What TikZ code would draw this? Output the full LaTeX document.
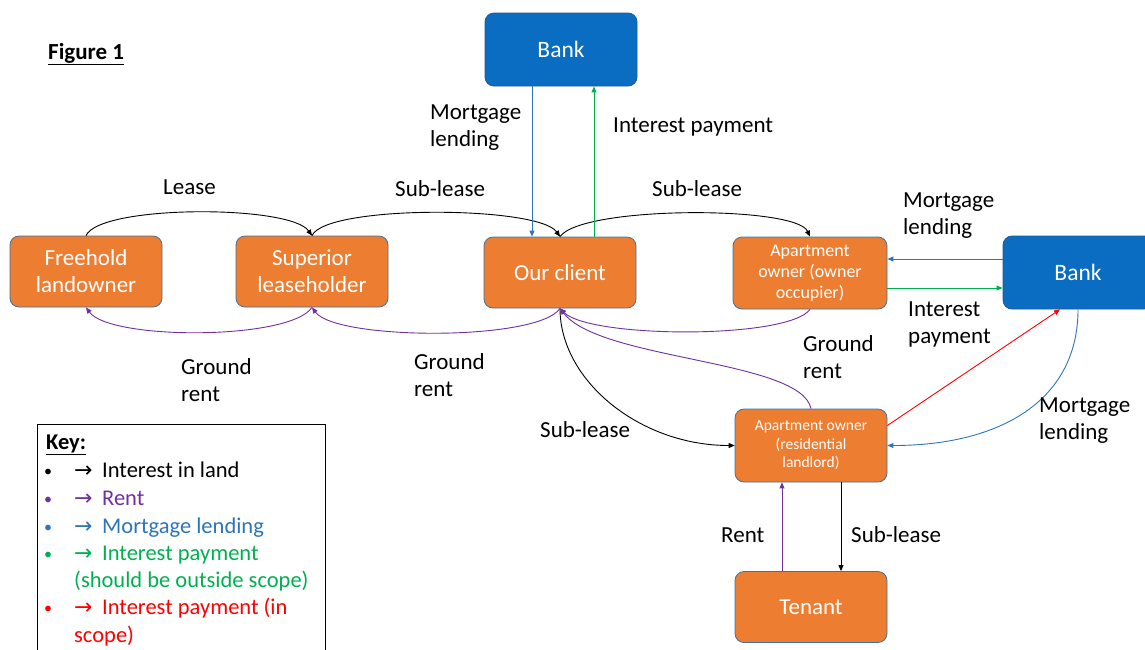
\documentclass[tikz,border=0pt]{standalone}
\usepackage{fontspec}
\setmainfont{Carlito}
\newfontfamily\djv{DejaVu Sans}
\usetikzlibrary{arrows.meta}
\definecolor{orng}{HTML}{ED7D31}
\definecolor{obord}{HTML}{41719C}
\definecolor{bankblue}{HTML}{0A6DC2}
\definecolor{bbord}{HTML}{1F5A96}
\definecolor{rentc}{HTML}{7030A0}
\definecolor{mortc}{HTML}{2E75B6}
\definecolor{intc}{HTML}{00B050}
\definecolor{redc}{HTML}{FF0000}
\newcommand\karrow{\makebox[28pt][l]{\djv\fontsize{22}{22}\selectfont →}}
\begin{document}
\begin{tikzpicture}[x=1pt,y=1pt,
 party/.style={rectangle, rounded corners=9pt, fill=orng, draw=obord, line width=0.8, text=white, align=center, minimum width=152pt, minimum height=71pt, inner sep=0pt, font=\fontsize{23}{27}\selectfont},
 bankbox/.style={party, fill=bankblue, draw=bbord},
 lbl/.style={anchor=west, align=left, inner sep=0pt, font=\fontsize{23}{27}\selectfont},
 keyline/.style={anchor=base west, inner sep=0pt, font=\fontsize{22.5}{27}\selectfont},
 arr/.style={line width=0.9, -{Triangle[length=6pt,width=5pt]}},
 land/.style={arr, black},
 rent/.style={arr, rentc},
 mort/.style={arr, mortc},
 intp/.style={arr, intc},
 intr/.style={arr, redc},
]
\useasboundingbox (0,0) rectangle (1145,-649);
\clip (0,0) rectangle (1145,-649);

% nodes
\node[bankbox, minimum height=73pt, font=\fontsize{23.5}{27}\selectfont] (bank1) at (561,-49.5) {Bank};
\node[party] (free) at (86,-271.5) {Freehold\\landowner};
\node[party] (sup) at (312,-271.5) {Superior\\leaseholder};
\node[party] (cli) at (560,-272.5) {Our client};
\node[party, font=\fontsize{18}{21}\selectfont, minimum width=154pt, minimum height=72pt] (occ) at (810,-273) {Apartment\\owner (owner\\occupier)};
\node[bankbox, minimum width=150pt, minimum height=73pt, font=\fontsize{23.5}{27}\selectfont] (bank2) at (1078,-272.5) {Bank};
\node[party, font=\fontsize{15.5}{18.5}\selectfont, minimum height=73pt] (lord) at (811,-445.5) {Apartment owner\\(residential\\landlord)};
\node[party] (ten) at (811,-607) {Tenant};

% interest in land
\draw[land] (free.north) .. controls +(14,31) and +(-22,31) .. (sup.north);
\draw[land] (sup.north) .. controls +(14,31) and +(-22,31) .. (cli.north);
\draw[land] (cli.north) .. controls +(22,31) and +(-14,31) .. (occ.north);
\draw[land] (cli.south) .. controls +(0,-72) and +(-95,0) .. (lord.west);
\draw[land] ([xshift=30pt]lord.south) -- ([xshift=30pt]ten.north);

% rent
\draw[rent] (sup.south) .. controls +(-22,-33) and +(24,-33) .. (free.south);
\draw[rent] (cli.south) .. controls +(-22,-33) and +(24,-33) .. (sup.south);
\draw[rent] (occ.south) .. controls +(-22,-30) and +(30,-30) .. (cli.south);
\draw[rent] (lord.north) .. controls +(-10,49) and +(40,-52) .. (cli.south);
\draw[rent] ([xshift=-29pt]ten.north) -- ([xshift=-29pt]lord.south);

% mortgage lending
\draw[mort] ([xshift=-29pt]bank1.south) -- ([xshift=-28pt]cli.north);
\draw[mort] ([yshift=13.5pt]bank2.west) -- ([yshift=14pt]occ.east);
\draw[mort] (bank2.south) .. controls +(0,-91) and +(113,0) .. (lord.east);

% interest payment
\draw[intp] ([xshift=34pt]cli.north) -- ([xshift=33pt]bank1.south);
\draw[intp] ([yshift=-15pt]occ.east) -- ([yshift=-15.5pt]bank2.west);
\draw[intr] ([yshift=20pt]lord.east) -- ([xshift=-18pt]bank2.south);

% labels
\node[lbl, font=\fontsize{23}{27}\selectfont\bfseries] (fig) at (48,-54) {\underline{Figure 1}};
\node[lbl] (l1) at (163,-187) {Lease};
\node[lbl] (l2) at (395,-189) {Sub-lease};
\node[lbl] (l3) at (652,-189) {Sub-lease};
\node[lbl] (l4) at (430,-128) {Mortgage\\lending};
\node[lbl] (l5) at (613,-127) {Interest payment};
\node[lbl] (l6) at (903,-216) {Mortgage\\lending};
\node[lbl] (l7) at (908,-324) {Interest\\payment};
\node[lbl] (l8) at (181,-380.5) {Ground\\rent};
\node[lbl] (l9) at (414,-375.5) {Ground\\rent};
\node[lbl] (l10) at (803,-357.5) {Ground\\rent};
\node[lbl] (l11) at (1039,-421) {Mortgage\\lending};
\node[lbl] (l12) at (540,-430) {Sub-lease};
\node[lbl] (l13) at (721,-535) {Rent};
\node[lbl] (l14) at (851,-535) {Sub-lease};

% key
\node[draw, line width=1, anchor=north west, minimum width=288pt, minimum height=240pt, inner sep=0pt] (key) at (37,-424) {};
\node[keyline, font=\fontsize{22.5}{27}\selectfont\bfseries] (k0) at (46,-449) {\underline{Key:}};
\node[keyline, anchor=base, font=\fontsize{16}{27}\selectfont] (b1) at (48,-476) {•};
\node[keyline, anchor=base, text=rentc, font=\fontsize{16}{27}\selectfont] (b2) at (48,-504) {•};
\node[keyline, anchor=base, text=mortc, font=\fontsize{16}{27}\selectfont] (b3) at (48,-532) {•};
\node[keyline, anchor=base, text=intc, font=\fontsize{16}{27}\selectfont] (b4) at (48,-559) {•};
\node[keyline, anchor=base, text=redc, font=\fontsize{16}{27}\selectfont] (b5) at (48,-613) {•};
\node[keyline] (k1) at (74,-477) {\karrow Interest in land};
\node[keyline, text=rentc] (k2) at (74,-505) {\karrow Rent};
\node[keyline, text=mortc] (k3) at (74,-533) {\karrow Mortgage lending};
\node[keyline, text=intc] (k4) at (74,-560) {\karrow Interest payment};
\node[keyline, text=intc] (k5) at (74,-587) {(should be outside scope)};
\node[keyline, text=redc] (k6) at (74,-614) {\karrow Interest payment (in};
\node[keyline, text=redc] (k7) at (74,-642) {scope)};
\end{tikzpicture}
\end{document}
